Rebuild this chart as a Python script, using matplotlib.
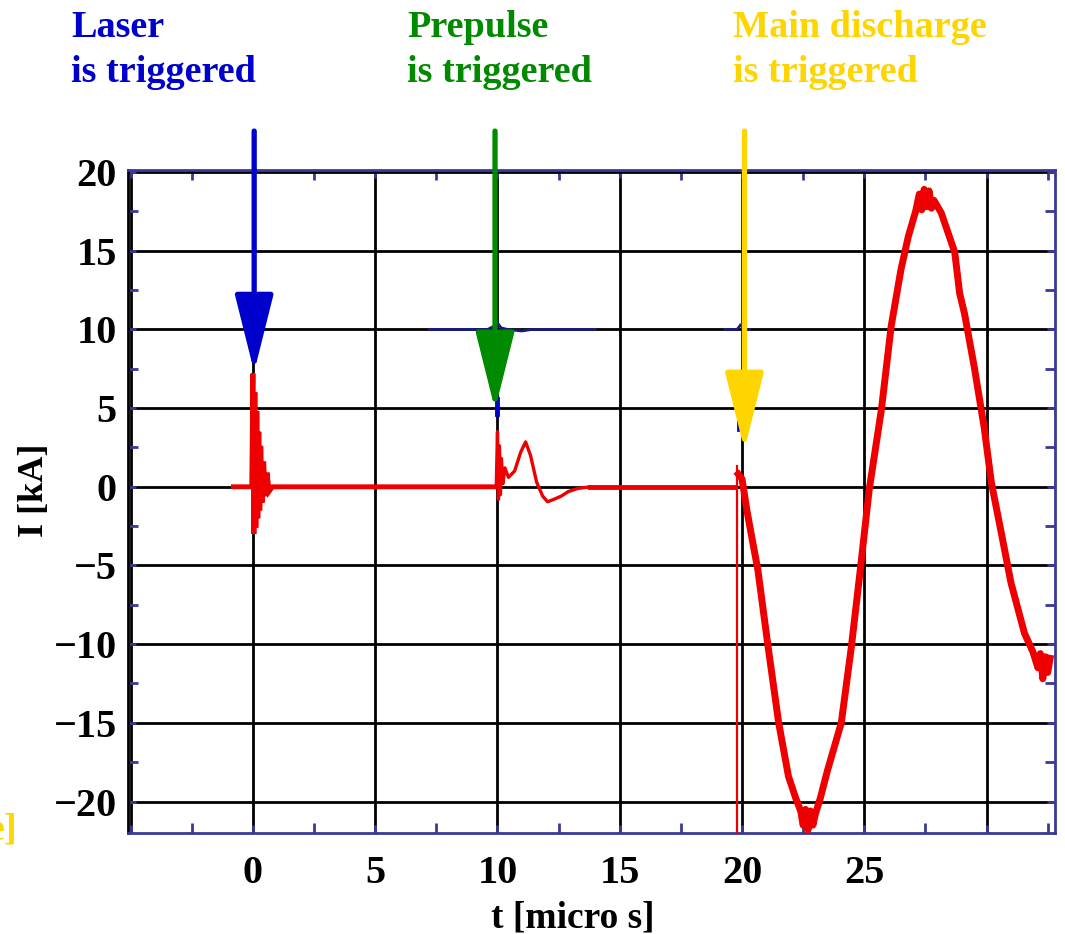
import matplotlib
matplotlib.use("Agg")
import matplotlib.pyplot as plt
from matplotlib.ticker import FixedLocator, FixedFormatter

plt.rcParams['font.family'] = ['Liberation Serif', 'DejaVu Serif']
plt.rcParams['font.weight'] = 'bold'

# ---------------- data ----------------
# laser spike + baseline (red)
t_laser = [-0.8, -0.05, 0.0, 0.04, 0.08, 0.12, 0.16, 0.2, 0.24, 0.28, 0.32, 0.38, 0.44, 0.5, 0.58, 0.66, 0.8, 9.95]
I_laser = [0, 0, 7.2, -3.0, 6.0, -2.6, 4.8, -2.0, 3.5, -1.5, 2.6, -1.0, 1.6, -0.6, 0.9, -0.3, 0, 0]

# prepulse (red)
t_pre = [9.95, 10.0, 10.04, 10.08, 10.12, 10.16, 10.22, 10.3, 10.45, 10.7, 10.95, 11.15, 11.35,
         11.6, 11.85, 12.05, 12.3, 12.6, 12.9, 13.3, 13.8]
I_pre = [0, 3.5, -0.8, 2.6, -0.5, 1.8, 0.2, 1.2, 0.6, 1.0, 2.2, 2.85, 2.0,
         0.3, -0.6, -0.95, -0.8, -0.6, -0.3, -0.1, 0]

# flat baseline before main discharge (red)
t_flat = [13.8, 19.7]
I_flat = [0, 0]

# thin vertical trigger line (red)
t_vert = [19.8, 19.8]
I_vert = [1.3, -23]

# main discharge (red)
t_main = [19.85, 20.0, 20.2, 20.4, 20.65, 21.07, 21.5, 21.9, 22.2, 22.4, 22.5, 22.6, 22.7, 22.8,
          22.9, 23.0, 23.2, 23.5, 24.06, 24.47, 24.85, 25.2, 25.7, 26.1, 26.5, 26.8, 27.1,
          27.25, 27.35, 27.45, 27.55, 27.65, 27.75, 27.85, 28.15, 28.7, 28.9, 29.1, 29.5,
          29.9, 30.2, 30.6, 31.0, 31.55, 31.9, 32.1, 32.2, 32.3, 32.4, 32.5, 32.6]
I_main = [0.8, 0.5, -1.5, -3.2, -5.3, -10.2, -15, -18.4, -19.8, -20.6, -21.5, -20.5, -21.8, -20.6,
          -21.5, -20.8, -19.8, -18, -15, -10.2, -5.1, -0.2, 4.9, 10.2, 13.8, 15.9, 17.5,
          18.6, 17.6, 18.9, 17.8, 18.8, 17.7, 18.2, 17.4, 14.9, 12.3, 11, 7.6,
          3.8, 0.25, -2.9, -6.1, -9.3, -10.5, -11.5, -10.6, -12.2, -10.8, -11.8, -10.9]

# faint second (navy) trace
t_navy1 = [7.2, 9.6, 9.85, 10.0, 10.15, 10.4, 11.0, 11.4, 14.0]
I_navy1 = [10, 10, 10.2, 10.4, 10.1, 10, 9.9, 10, 10]
t_navy2 = [19.3, 19.8, 19.95, 20.1, 20.3]
I_navy2 = [10, 10, 10.3, 10, 10]
t_navy3 = [10.0, 10.0]
I_navy3 = [4.6, 5.6]
t_navy4 = [19.9, 19.9]
I_navy4 = [6.3, 7.0]
t_navy5 = [19.85, 19.85]
I_navy5 = [3.6, 4.7]

# annotation arrows
arrow_t = [0.05, 9.9, 20.1]
arrow_tip = [7.3, 4.9, 2.35]
arrow_colors = ['#0000CC', '#008A00', '#FFD500']
arrow_labels = [('Laser', 'is triggered'), ('Prepulse', 'is triggered'), ('Main discharge', 'is triggered')]
label_x_px = [71, 407, 733]

# ticks
xticks = [-5, 0, 5, 10, 15, 20, 25, 30]
xticklabels = ['', '0', '5', '10', '15', '20', '25', '']
yticks = [-20, -15, -10, -5, 0, 5, 10, 15, 20]
yticklabels = ['\u221220', '\u221215', '\u221210', '\u22125', '0', '5', '10', '15', '20']
xminor = [-2.5, 2.5, 7.5, 12.5, 17.5, 22.5, 27.5, 32.5]
yminor = [-17.5, -12.5, -7.5, -2.5, 2.5, 7.5, 12.5, 17.5]

# ---------------- figure ----------------
W, H = 1065, 934
fig = plt.figure(figsize=(W / 100, H / 100), dpi=100)
ax = fig.add_axes([128 / W, 1 - 833 / H, (1055 - 128) / W, (833 - 170) / H])
ax.set_xlim(-5.11, 32.8)
ax.set_ylim(-22.0, 20.13)

navy = '#3a3a96'
ax.xaxis.set_major_locator(FixedLocator(xticks))
ax.xaxis.set_major_formatter(FixedFormatter(xticklabels))
ax.yaxis.set_major_locator(FixedLocator(yticks))
ax.yaxis.set_major_formatter(FixedFormatter(yticklabels))
ax.xaxis.set_minor_locator(FixedLocator(xminor))
ax.yaxis.set_minor_locator(FixedLocator(yminor))
ax.grid(True, which='major', color='black', lw=2.0, zorder=0)
ax.set_axisbelow(True)

ax.tick_params(axis='both', which='both', direction='in', top=True, right=True,
               color=navy, labelsize=29)
ax.tick_params(axis='both', which='minor', length=7, width=2)
ax.tick_params(axis='both', which='major', length=6, width=2)
ax.tick_params(axis='x', which='major', pad=16)
ax.tick_params(axis='y', which='major', pad=8)
for lab in ax.get_xticklabels() + ax.get_yticklabels():
    lab.set_fontweight('bold')

for side in ['top', 'right', 'bottom']:
    ax.spines[side].set_color(navy)
    ax.spines[side].set_linewidth(2)
ax.spines['left'].set_color('black')
ax.spines['left'].set_linewidth(2)

red = '#EE0000'
navy_tr = '#1a1a80'
ax.plot(t_navy1, I_navy1, color=navy_tr, lw=2, zorder=3)
ax.plot(t_navy2, I_navy2, color=navy_tr, lw=2, zorder=3)
ax.plot(t_navy3, I_navy3, color='#0000CC', lw=3.5, zorder=3)
ax.plot(t_navy4, I_navy4, color='#0000CC', lw=2, zorder=3)
ax.plot(t_navy5, I_navy5, color='#0000CC', lw=2, zorder=3)

ax.plot(t_laser, I_laser, color=red, lw=3.5, zorder=4, solid_joinstyle='miter')
ax.plot(t_pre, I_pre, color=red, lw=2.4, zorder=4)
ax.plot(t_flat, I_flat, color=red, lw=3.5, zorder=4)
ax.plot(t_vert, I_vert, color=red, lw=1.6, zorder=4)
ax.plot(t_main, I_main, color=red, lw=5, zorder=4)

# arrows
top_I = (487 - 131) / 15.75
for t, tip, c in zip(arrow_t, arrow_tip, arrow_colors):
    ax.annotate('', xy=(t, tip), xytext=(t, top_I), textcoords='data',
                annotation_clip=False,
                arrowprops=dict(arrowstyle='-|>,head_length=48,head_width=12',
                                mutation_scale=1, lw=3.8, color=c,
                                shrinkA=0, shrinkB=0),
                zorder=6)

# labels at the top
for (l1, l2), c, xp in zip(arrow_labels, arrow_colors, label_x_px):
    fig.text(xp / W, 1 - 37 / H, l1, color=c, fontsize=27.5, fontweight='bold', va='baseline', ha='left')
    fig.text(xp / W, 1 - 82 / H, l2, color=c, fontsize=27.5, fontweight='bold', va='baseline', ha='left')

# axis labels
fig.text(35 / W, 1 - 490 / H, 'I [kA]', rotation=90, fontsize=26, fontweight='bold',
         ha='center', va='center')
fig.text(573 / W, 1 - 901 / H, 't [micro s]', fontsize=27, fontweight='bold',
         ha='center', va='top')

# cut-off fragment at bottom left
fig.text(18 / W, 1 - 840 / H, 'e]', color='#FFD500', fontsize=27.5, fontweight='bold',
         ha='right', va='baseline')

fig.savefig('out.png', dpi=100)
